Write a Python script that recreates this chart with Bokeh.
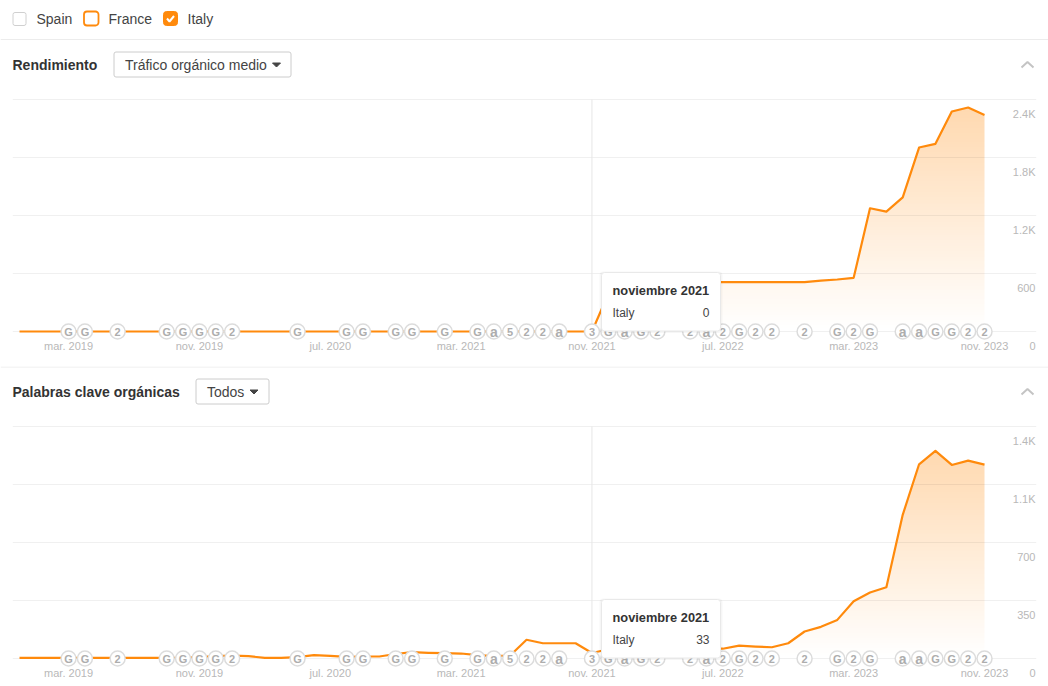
import numpy as np
from bokeh.core.properties import value
from bokeh.embed import file_html
from bokeh.layouts import column
from bokeh.models import FixedTicker, LinearAxis, Range1d
from bokeh.plotting import figure
from bokeh.resources import INLINE

FONT = "Liberation Sans"
ORANGE = "#ff8a0c"

# ---------- data ----------
months = list(range(60))  # Dec 2018 .. Nov 2023
x_tick_months = [3, 11, 19, 27, 35, 43, 51, 59]
x_tick_labels = ["mar. 2019", "nov. 2019", "jul. 2020", "mar. 2021",
                 "nov. 2021", "jul. 2022", "mar. 2023", "nov. 2023"]

traffic = [0] * 36 + [390] + [510] * 12 + [527, 538, 555, 1275, 1240, 1388, 1903, 1941, 2276, 2317, 2240]
traffic_ticks = [0, 600, 1200, 1800, 2400]
traffic_labels = ["0", "600", "1.2K", "1.8K", "2.4K"]

keywords = [4, 4, 4, 4, 4, 4, 4, 4, 4, 4, 4, 9, 14, 17, 14, 4, 4, 8, 20, 16, 10, 12, 12, 27, 38, 34, 32, 30, 20, 14,
            18, 113, 92, 92, 92, 33, 56, 58, 58, 58, 58, 58, 58, 59, 78, 72, 68, 92, 163, 191, 233, 345, 398, 430,
            867, 1172, 1253, 1168, 1194, 1170]
keyword_ticks = [0, 350, 700, 1050, 1400]
keyword_labels = ["0", "350", "700", "1.1K", "1.4K"]

note_months = [3, 4, 6, 9, 10, 11, 12, 13, 17, 20, 21, 23, 24, 26, 28, 29, 30, 31, 32, 33, 35, 36, 37, 38, 39,
               41, 42, 43, 44, 45, 46, 48, 50, 51, 52, 54, 55, 56, 57, 58, 59]
note_labels = ["G", "G", "2", "G", "G", "G", "G", "2", "G", "G", "G", "G", "G", "G", "G", "a", "5", "2", "2", "a",
               "3", "G", "a", "G", "2", "2", "a", "2", "G", "2", "2", "2", "G", "2", "G", "a", "a", "G", "G", "2", "2"]

hover_month = 35
hover_title = "noviembre 2021"
series_name = "Italy"

# ---------- layout constants (pixels) ----------
W = 1048
PX_LEFT, PX_RIGHT = 12, 1036
PX_X0, PX_PER_MONTH = 19.0, 16.356
PLOT_H = 232.0
LABEL_SHIFT = 14.5
AXIS_LABEL_PAD = 7.0


def label_width(s):
    return sum({".": 3.06, "K": 7.34}.get(c, 6.12) for c in s)


def chrome(height):
    p = figure(width=W, height=height, x_range=(0, W), y_range=(height, 0), output_backend="svg",
               toolbar_location=None, x_axis_location=None, y_axis_location=None, min_border=0,
               min_border_left=0, min_border_right=0, min_border_top=0, min_border_bottom=0, frame_align=False,
               outline_line_color=None, background_fill_color="white", border_fill_color="white")
    p.grid.visible = False
    return p


def txt(p, x, y, s, size="14px", color="#333333", style="normal", align="left"):
    p.text([x], [y], text=[s], text_font=value(FONT), text_font_size=size, text_color=color,
           text_font_style=style, text_align=align, text_baseline="middle")


def rbox(p, x0, y0, x1, y1, fill, line, r=2, lw=1.0):
    p.quad(left=[x0], right=[x1], top=[y0], bottom=[y1], fill_color=fill, line_color=line,
           line_width=lw, border_radius=r)


def panel_head(p, y, title, title_x, box_x0, box_x1, option, caret_x):
    txt(p, title_x, y, title, style="bold")
    rbox(p, box_x0 + .5, y - 12.5, box_x1 + .5, y + 12.5, "white", "#cccccc")
    txt(p, box_x0 + 11.5, y, option, color="#444444")
    p.patch([caret_x - 4, caret_x + 4, caret_x], [y - 1.5, y - 1.5, y + 2.5], color="#444444")
    p.line([1021, 1027, 1033], [y + 3, y - 2.5, y + 3], line_color="#c4c4c4", line_width=2)


def chart(height, frame_top, frame_bottom, base_px, series, ticks, labels):
    vpp = ticks[-1] / PLOT_H
    y0 = -(frame_bottom - base_px) * vpp
    y1 = ticks[-1] + ((base_px - PLOT_H) - frame_top) * vpp
    x0 = (PX_LEFT - PX_X0) / PX_PER_MONTH
    x1 = (PX_RIGHT - PX_X0) / PX_PER_MONTH
    p = figure(width=W, height=height, x_range=Range1d(x0, x1), y_range=Range1d(y0, y1), output_backend="svg",
               toolbar_location=None, y_axis_location=None, x_axis_location="below", frame_align=False,
               min_border_left=PX_LEFT, min_border_right=W - PX_RIGHT, min_border_top=frame_top,
               min_border_bottom=height - frame_bottom, outline_line_color=None,
               background_fill_color="white", border_fill_color="white")

    # x axis: the frame runs below the baseline, so its labels are pulled back up
    ax = p.xaxis[0]
    ax.ticker = FixedTicker(ticks=x_tick_months)
    ax.major_label_overrides = dict(zip(x_tick_months, x_tick_labels))
    ax.axis_line_color = None
    ax.major_tick_line_color = None
    ax.minor_tick_line_color = None
    ax.major_label_standoff = -(frame_bottom - base_px) + 2
    ax.major_label_text_font = FONT
    ax.major_label_text_font_size = "11px"
    ax.major_label_text_color = "#b8b8b8"
    p.xgrid.visible = False

    # y grid
    p.ygrid.ticker = FixedTicker(ticks=ticks)
    p.ygrid.grid_line_color = "#000000"
    p.ygrid.grid_line_alpha = 0.06
    p.ygrid.grid_line_width = 1.2

    # right-hand labels sit just under each gridline and end at the frame edge
    p.extra_y_ranges = {"labels": Range1d(y0 + LABEL_SHIFT * vpp, y1 + LABEL_SHIFT * vpp)}
    for tick, label in zip(ticks, labels):
        yax = LinearAxis(y_range_name="labels", ticker=FixedTicker(ticks=[tick]),
                         fixed_location=x1 - (label_width(label) + AXIS_LABEL_PAD) / PX_PER_MONTH,
                         axis_line_color=None, major_tick_line_color=None, minor_tick_line_color=None,
                         major_label_standoff=0, major_label_text_font=FONT, major_label_text_font_size="11px",
                         major_label_text_color="#b8b8b8", major_label_overrides={tick: label})
        p.add_layout(yax, "right")

    # vertical gradient under the line
    top = max(series)
    alpha = np.linspace(0, 0.33, 232) * 255
    img = np.zeros((232, 2, 4), dtype=np.uint8)
    img[..., 0], img[..., 1], img[..., 2] = 255, 138, 12
    img[..., 3] = alpha[:, None].astype(np.uint8)
    p.image_rgba(image=[img.view(np.uint32).reshape(232, 2)], x=months[0], y=0,
                 dw=months[-1] - months[0], dh=top, level="image")
    mask_x = [months[0] - 1] + months + [months[-1] + 1]
    mask_y = [series[0]] + series + [series[-1]]
    p.varea(x=mask_x, y1=mask_y, y2=[y1] * len(mask_x), fill_color="white", level="image")

    # crosshair, line, notes
    p.segment(x0=[hover_month], x1=[hover_month], y0=[0], y1=[ticks[-1]], line_color="#e6e6e6", line_width=1)
    p.line(months, series, line_color=ORANGE, line_width=2.2, line_join="round")
    zeros = [0] * len(note_months)
    p.scatter(note_months, zeros, marker="circle", size=15, fill_color="white", line_color="#dcdcdc", line_width=1.5)
    sizes = ["14px" if s == "a" else "11px" for s in note_labels]
    p.text(note_months, zeros, text=note_labels, text_font=value(FONT), text_font_size=sizes,
           text_font_style="bold", text_color="#adadad", text_align="center", text_baseline="middle")

    # tooltip
    def dx(px):
        return (px - PX_X0) / PX_PER_MONTH

    def dy(px):
        return (base_px - px) * vpp

    t0, t1 = base_px - 59, base_px - 0.5
    p.quad(left=[dx(599)], right=[dx(722)], top=[dy(t0 - 1)], bottom=[dy(t1 + 2)], fill_color="#000000",
           fill_alpha=0.035, line_color=None, border_radius=4)
    p.quad(left=[dx(601)], right=[dx(720)], top=[dy(t0)], bottom=[dy(t1)], fill_color="white",
           line_color="#e9e9e9", border_radius=3)
    tip = dict(text_font=value(FONT), text_baseline="middle")
    p.text([dx(612)], [dy(t0 + 18)], text=[hover_title], text_font_size="12.8px", text_font_style="bold",
           text_color="#333333", **tip)
    p.text([dx(612)], [dy(t0 + 40)], text=[series_name], text_font_size="12px", text_color="#444444", **tip)
    p.text([dx(709)], [dy(t0 + 40)], text=[str(series[hover_month])], text_font_size="12px", text_color="#444444",
           text_align="right", **tip)
    return p


# ---------- page ----------
head1 = chrome(85)
rbox(head1, 12.5, 12, 25.5, 25, "white", "#d0d0d0", r=2)
txt(head1, 36, 18, "Spain", color="#444444")
rbox(head1, 83.5, 11, 98, 25, "white", ORANGE, r=3, lw=1.8)
txt(head1, 108, 18, "France", color="#444444")
rbox(head1, 163, 11, 177, 25, ORANGE, ORANGE, r=3)
head1.line([166.5, 169, 173.5], [18, 21, 15.5], line_color="white", line_width=2)
txt(head1, 187, 18, "Italy", color="#444444")
head1.line([0, W], [39, 39], line_color="#ececec", line_width=1)
panel_head(head1, 64, "Rendimiento", 12, 113, 290, "Tráfico orgánico medio", 276)

head2 = chrome(46)
head2.line([0, W], [0.5, 0.5], line_color="#ececec", line_width=1)
panel_head(head2, 25, "Palabras clave orgánicas", 12, 195, 268, "Todos", 253.5)

chart1 = chart(281, 5, 270, 246, traffic, traffic_ticks, traffic_labels)
chart2 = chart(274, 5, 270, 246, keywords, keyword_ticks, keyword_labels)

page = column(head1, chart1, head2, chart2, spacing=0)
open("out.html", "w").write(file_html(page, INLINE))
